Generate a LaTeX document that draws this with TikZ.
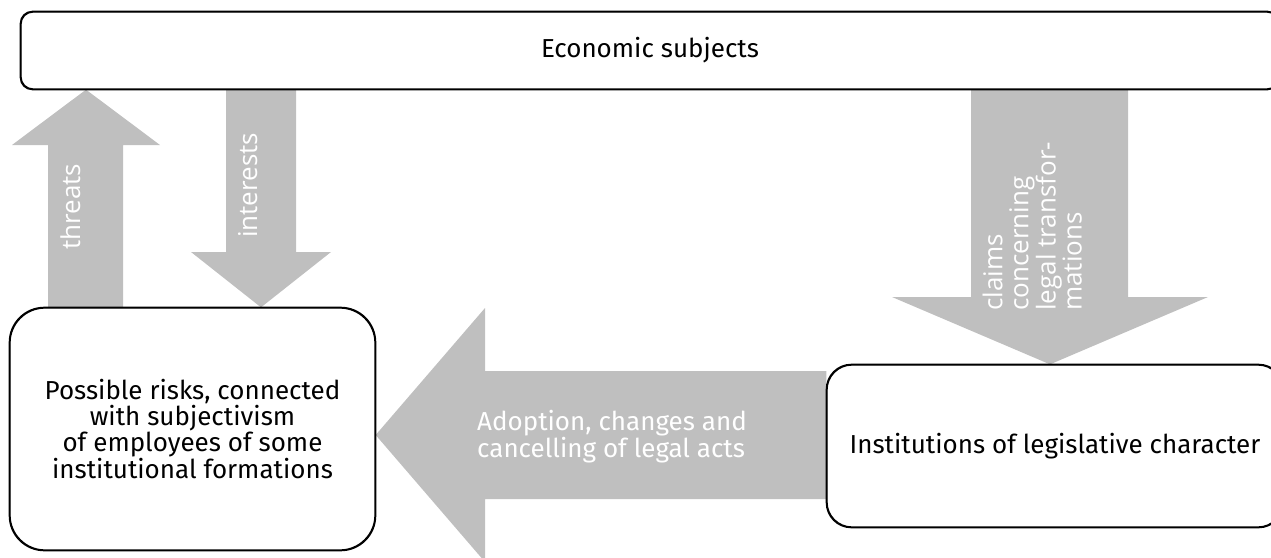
\documentclass[tikz,border=0pt]{standalone}
\usepackage{fontspec}
\setmainfont{Fira Sans}
\newfontfamily\arrowfont{Open Sans}
\usepackage{tikz}
\usetikzlibrary{positioning}
\definecolor{arrowgray}{HTML}{BFBFBF}

\begin{document}
\begin{tikzpicture}[x=1pt,y=-1pt,
  box/.style={draw=black,line width=1.3pt,fill=white,align=center,inner sep=0pt,
    font=\fontsize{26}{25.7}\selectfont},
  blockarrow/.style={fill=arrowgray},
  arrowtext/.style={text=white,inner sep=0pt,font=\arrowfont\fontsize{26}{26}\selectfont}]
\useasboundingbox (0,0) rectangle (1271,557);

\node[box,rounded corners=12pt,minimum width=1258pt,minimum height=77pt] (eco) at (650,50.5) {Economic subjects};
\node[box,rounded corners=35pt,minimum width=365pt,minimum height=242pt] (risk) at (192.5,429)
  {Possible risks, connected\\with subjectivism\\of employees of some\\institutional formations};
\node[box,rounded corners=25pt,minimum width=456pt,minimum height=162pt] (inst) at (1055,446)
  {Institutions of legislative character};

\fill[blockarrow] (48,0 |- risk.north) -- (48,145) -- (12,145) -- (86,0 |- eco.south)
  -- (160,145) -- (123,145) -- (123,0 |- risk.north) -- cycle;
\fill[blockarrow] (226,0 |- eco.south) -- (226,252) -- (191,252) -- (261,0 |- risk.north)
  -- (331,252) -- (296,252) -- (296,0 |- eco.south) -- cycle;
\fill[blockarrow] (971,0 |- eco.south) -- (971,297) -- (892,297) -- (1050,0 |- inst.north)
  -- (1208,297) -- (1128,297) -- (1128,0 |- eco.south) -- cycle;
\fill[blockarrow] (inst.west |- 0,371) -- (485,371) -- (485,308) -- (risk.east |- 0,435)
  -- (485,562) -- (485,499) -- (inst.west |- 0,499) -- cycle;

\draw[line width=1.3pt,rounded corners=12pt] (eco.south west) rectangle (eco.north east);
\draw[line width=1.3pt,rounded corners=35pt] (risk.south west) rectangle (risk.north east);
\draw[line width=1.3pt,rounded corners=25pt] (inst.south west) rectangle (inst.north east);

\node[arrowtext,rotate=90,anchor=base west] (threats) at (80,250) {threats};
\node[arrowtext,rotate=90,anchor=base west] (interests) at (257,238) {interests};
\node[arrowtext,rotate=90,anchor=south west,align=left] (claims) at (1082,311)
  {claims\\concerning\\legal transfor-\\mations};
\node[text=white,align=left,inner sep=0pt,font=\fontsize{26}{25}\selectfont] (adopt) at (612,437)
  {Adoption, changes and\\cancelling of legal acts};
\end{tikzpicture}
\end{document}
